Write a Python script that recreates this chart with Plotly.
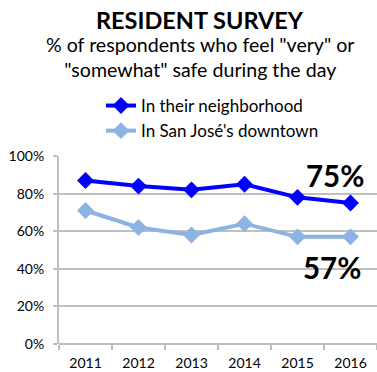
import plotly.graph_objects as go

years = ["2011", "2012", "2013", "2014", "2015", "2016"]
neighborhood = [87, 84, 82, 85, 78, 75]
downtown = [71, 62, 58, 64, 57, 57]
y_ticks = [0, 20, 40, 60, 80, 100]
y_tick_labels = ["0%", "20%", "40%", "60%", "80%", "100%"]

FONT = "Lato"
DARK = "#0000FF"
LIGHT = "#8DB3E2"
GRID = "#BFBFBF"

fig = go.Figure()
fig.add_trace(go.Scatter(
    x=years, y=neighborhood, name="In their neighborhood",
    mode="lines+markers",
    line=dict(color=DARK, width=4),
    marker=dict(symbol="diamond", size=13, color=DARK),
))
fig.add_trace(go.Scatter(
    x=years, y=downtown, name="In San José's downtown",
    mode="lines+markers",
    line=dict(color=LIGHT, width=4),
    marker=dict(symbol="diamond", size=13, color=LIGHT),
))

H = 372
T, B = 156, 28
plot_h = H - T - B


def py(px_from_top):
    return (H - B - px_from_top) / plot_h


fig.add_annotation(
    text="<b>RESIDENT SURVEY</b>", xref="paper", yref="paper",
    x=0.443, y=py(20), showarrow=False, xanchor="center", yanchor="middle",
    font=dict(family=FONT, size=23.5, color="#000000"),
)
fig.add_annotation(
    text="% of respondents who feel \"very\" or<br>\"somewhat\" safe during the day",
    xref="paper", yref="paper",
    x=0.443, y=py(57), showarrow=False, xanchor="center", yanchor="middle",
    font=dict(family=FONT, size=19.6, color="#000000"),
)
fig.add_annotation(
    text="<b>75%</b>", xref="paper", yref="paper",
    x=(335 - 59) / 318, y=py(175), showarrow=False,
    xanchor="center", yanchor="middle",
    font=dict(family=FONT, size=29.5, color="#000000"),
)
fig.add_annotation(
    text="<b>57%</b>", xref="paper", yref="paper",
    x=(332 - 59) / 318, y=py(267), showarrow=False,
    xanchor="center", yanchor="middle",
    font=dict(family=FONT, size=29.5, color="#000000"),
)

fig.update_layout(
    width=377, height=H,
    margin=dict(l=59, r=0, t=T, b=B),
    paper_bgcolor="white", plot_bgcolor="white",
    font=dict(family=FONT, size=13, color="#000000"),
    showlegend=True,
    legend=dict(
        x=(101 - 59) / 318, y=py(88), xanchor="left", yanchor="top",
        font=dict(family=FONT, size=17, color="#000000"),
        bgcolor="rgba(0,0,0,0)", borderwidth=0,
    ),
    xaxis=dict(
        type="category", range=[-0.5, 5.5],
        showline=False, showgrid=False,
        ticks="outside", tickson="boundaries", ticklen=5,
        tickcolor=GRID, tickwidth=2,
        tickfont=dict(family=FONT, size=14),
        ticklabelstandoff=9,
        fixedrange=True,
    ),
    yaxis=dict(
        range=[0, 100], tickvals=y_ticks, ticktext=y_tick_labels,
        showgrid=True, gridcolor=GRID, gridwidth=2,
        showline=True, linecolor=GRID, linewidth=2,
        ticks="outside", ticklen=4, tickcolor=GRID, tickwidth=2,
        zeroline=True, zerolinecolor=GRID, zerolinewidth=2,
        tickfont=dict(family=FONT, size=14),
        ticklabelstandoff=6,
        fixedrange=True,
    ),
)

fig.write_html("out.html")
